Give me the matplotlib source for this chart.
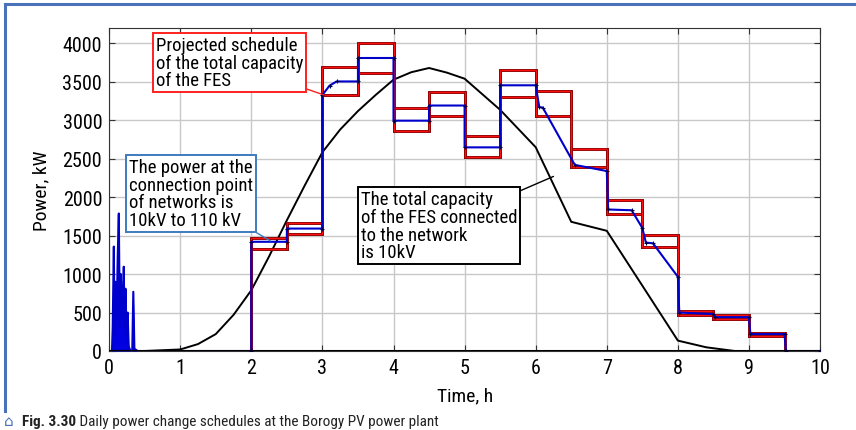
import matplotlib
matplotlib.use("Agg")
import matplotlib.pyplot as plt
from matplotlib import font_manager

# Schrift: schmale Sans, falls vorhanden
verfuegbar = {f.name for f in font_manager.fontManager.ttflist}
for kandidat in ["Roboto Condensed", "Liberation Sans Narrow", "DejaVu Sans"]:
    if kandidat in verfuegbar:
        schrift = kandidat
        break
plt.rcParams["font.family"] = [schrift, "DejaVu Sans"]

# Daten

# Projektierter Fahrplan: halbstündige Bänder (Ober-/Untergrenze)
band_start = [0.0, 2.0, 2.5, 3.0, 3.5, 4.0, 4.5, 5.0, 5.5, 6.0, 6.5, 7.0, 7.5, 8.0, 8.5, 9.0, 9.5]
band_ende  = [2.0, 2.5, 3.0, 3.5, 4.0, 4.5, 5.0, 5.5, 6.0, 6.5, 7.0, 7.5, 8.0, 8.5, 9.0, 9.5, 10.0]
band_oben  = [0, 1470, 1670, 3690, 4005, 3165, 3370, 2795, 3650, 3380, 2625, 1965, 1505, 525, 470, 235, 0]
band_unten = [0, 1330, 1520, 3335, 3615, 2860, 3055, 2525, 3300, 3055, 2390, 1778, 1357, 470, 418, 200, 0]

# Leistung am Netzanschlusspunkt (blau)
netz_t = [0.0, 0.04, 0.05, 0.066, 0.075, 0.09, 0.105, 0.12, 0.136, 0.15, 0.165, 0.18,
          0.195, 0.206, 0.215, 0.23, 0.245, 0.26, 0.275, 0.30, 0.325, 0.34, 0.355, 0.40,
          2.0, 2.0, 2.5, 2.5, 3.0, 3.0, 3.1, 3.2, 3.5, 3.5, 4.0, 4.0, 4.5, 4.5, 5.0, 5.0,
          5.5, 5.5, 6.0, 6.05, 6.1, 6.55, 7.0, 7.02, 7.35, 7.5, 7.55, 7.65, 8.0, 8.02,
          8.5, 8.52, 9.0, 9.02, 9.5, 9.52, 10.0]
netz_p = [0, 0, 300, 1358, 200, 900, 400, 1200, 1788, 300, 1000, 450,
          700, 1096, 300, 810, 200, 500, 60, 0, 0, 770, 30, 0,
          0, 1420, 1420, 1592, 1592, 3330, 3450, 3505, 3505, 3810, 3810, 2995, 2995, 3192, 3192, 2648,
          2648, 3455, 3455, 3172, 3165, 2420, 2340, 1840, 1830, 1600, 1410, 1400, 965, 500,
          480, 440, 440, 220, 220, 0, 0]

# Gesamtleistung der FES (schwarz)
fes_t = [0.0, 0.5, 1.0, 1.25, 1.5, 1.75, 2.0, 2.25, 2.5, 2.75, 3.0, 3.25, 3.5, 3.75, 4.0,
         4.25, 4.5, 4.75, 5.0, 5.5, 6.0, 6.5, 7.0, 7.5, 8.0, 8.4, 8.8, 10.0]
fes_p = [0, 0, 20, 90, 220, 470, 790, 1230, 1700, 2150, 2585, 2880, 3120, 3330, 3528,
         3625, 3680, 3620, 3541, 3136, 2650, 1680, 1563, 850, 135, 48, 0, 0]

x_ticks = [0, 1, 2, 3, 4, 5, 6, 7, 8, 9, 10]
y_ticks = [0, 500, 1000, 1500, 2000, 2500, 3000, 3500, 4000]

# Zeichnen

fig = plt.figure(figsize=(8.56, 4.31), dpi=100)
ax = fig.add_axes([0.1275, 0.1833, 0.8305, 0.7494])

ax.grid(True, color="#c8c8c8", lw=1.0)
ax.set_axisbelow(True)

ax.plot(fes_t, fes_p, color="black", lw=1.4, zorder=3)

# Bänder als Kästen (dunkler Rand, rotes Inneres)
for a, b, o, u in zip(band_start, band_ende, band_oben, band_unten):
    ax.plot([a, b, b, a, a], [u, u, o, o, u], color="#8a0000", lw=2.1, zorder=4,
            solid_joinstyle="miter")
    ax.plot([a, b, b, a, a], [u, u, o, o, u], color="#ff1010", lw=0.9, zorder=4,
            solid_joinstyle="miter")
# Flanken zwischen den Kästen
for i in range(1, len(band_start)):
    lo = min(band_unten[i - 1], band_unten[i])
    hi = max(band_oben[i - 1], band_oben[i])
    ax.vlines(band_start[i], lo, hi, color="#8a0000", lw=2.1, zorder=4)
    ax.vlines(band_start[i], lo, hi, color="#ff1010", lw=0.9, zorder=4)

ax.fill_between(netz_t[:24], netz_p[:24], color="#0000e0", lw=0, zorder=5)
ax.plot(netz_t, netz_p, color="#0000cc", lw=1.5, zorder=5)
ax.plot(netz_t[24:], netz_p[24:], ls="none", marker="+", ms=3, mew=0.8,
        color="#000044", zorder=6)

ax.set_xlim(0, 10)
ax.set_ylim(0, 4200)
ax.set_xticks(x_ticks)
ax.set_yticks(y_ticks)
ax.tick_params(direction="in", length=4, top=True, right=True, labelsize=14.5,
               pad=5, color="#333333")
for s in ax.spines.values():
    s.set_color("#333333")
ax.axhline(0, color="black", lw=2.2, zorder=7)

ax.set_xlabel("Time, h", fontsize=14, labelpad=7)
ax.set_ylabel("Power, kW", fontsize=14, labelpad=9)

# Beschriftungen
kw = dict(fontsize=13.5, linespacing=0.98, ha="left", va="top", zorder=10)
ax.annotate("Projected schedule\nof the total capacity\nof the FES",
            xy=(3.02, 3330), xytext=(0.66, 4100), textcoords="data",
            bbox=dict(boxstyle="square,pad=0.15", fc="white", ec="#ff2020", lw=1.4),
            arrowprops=dict(arrowstyle="-", color="#ff2020", lw=1.0,
                            shrinkA=0, shrinkB=0), **kw)
ax.annotate("The power at the\nconnection point\nof networks is\n10kV to 110 kV",
            xy=(2.27, 1430), xytext=(0.28, 2510), textcoords="data",
            bbox=dict(boxstyle="square,pad=0.15", fc="white", ec="#3d7cc0", lw=1.4),
            arrowprops=dict(arrowstyle="-", color="#3d7cc0", lw=1.0,
                            shrinkA=0, shrinkB=0), **kw)
ax.annotate("The total capacity\nof the FES connected\nto the network\nis 10kV",
            xy=(6.25, 2270), xytext=(3.54, 2090), textcoords="data",
            bbox=dict(boxstyle="square,pad=0.15", fc="white", ec="black", lw=1.4),
            arrowprops=dict(arrowstyle="-", color="black", lw=1.0,
                            shrinkA=0, shrinkB=0), **kw)

# Rahmen und Bildunterschrift
fig.add_artist(plt.Line2D([5 / 856, 1], [1 - 5 / 431, 1 - 5 / 431],
                          color="#4a72b8", lw=2.2))
fig.add_artist(plt.Line2D([5 / 856, 5 / 856], [1 - 5 / 431, 1 - 412 / 431],
                          color="#4a72b8", lw=2.2))
fig.text(0.004, 0.004, "\u2302", fontsize=11, color="#4a72b8", va="bottom")
t_fig = fig.text(22 / 856, 0.004, "Fig. 3.30", fontsize=11, fontweight="bold",
                 va="bottom", color="#222222")
ax.annotate(" Daily power change schedules at the Borogy PV power plant",
            xy=(1, 0), xycoords=t_fig, fontsize=11, va="bottom", color="#222222",
            annotation_clip=False)

fig.savefig("out.png", dpi=100)
